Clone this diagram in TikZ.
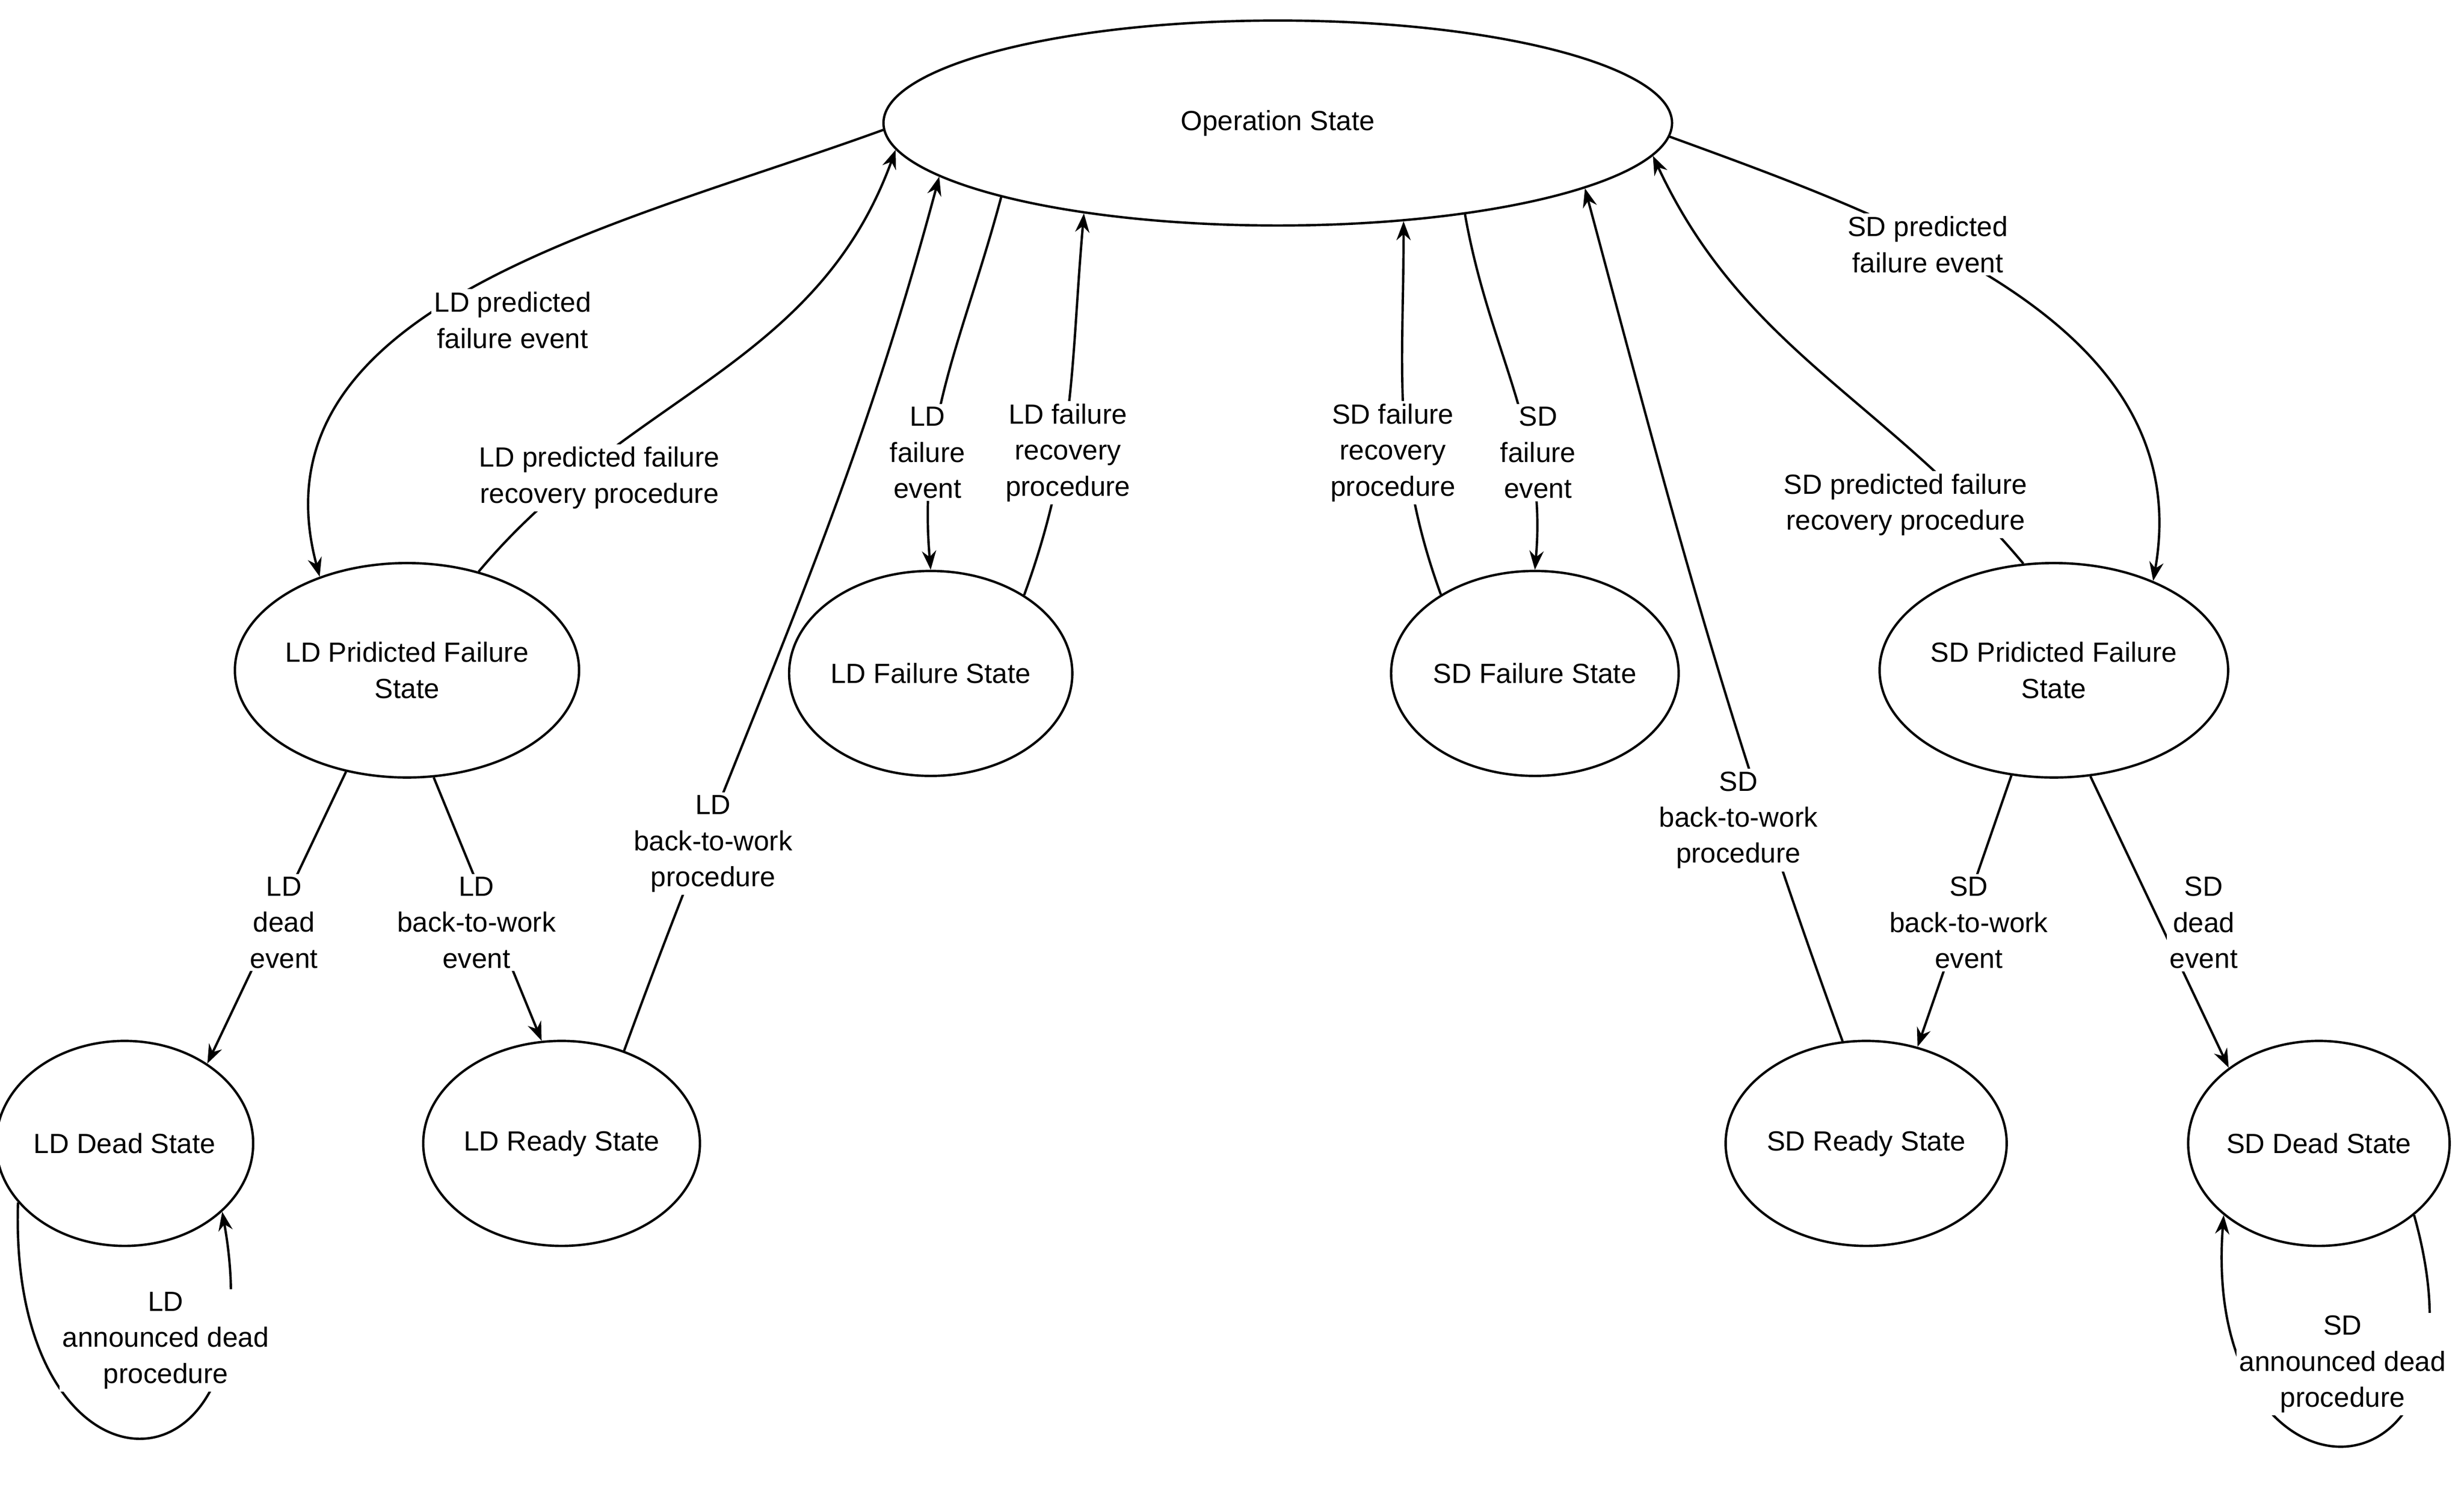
\documentclass[tikz,border=0pt]{standalone}
\usepackage{fontspec}
\setmainfont{Liberation Sans}
\usetikzlibrary{shapes.geometric,arrows.meta}
\begin{document}
\begin{tikzpicture}[x=0.02cm,y=-0.02cm,
  st/.style={ellipse,draw,line width=0.85pt,minimum width=2.8cm,minimum height=2.6cm,inner sep=0pt,align=center,font=\fontsize{10}{13}\selectfont},
  ed/.style={line width=0.85pt,-{Stealth[length=2.4mm,width=1.8mm]}},
  lb/.style={fill=white,inner sep=1pt,align=center,font=\fontsize{10}{13}\selectfont}]
\useasboundingbox (0,0) rectangle (1562,947);
\node[st,minimum width=10cm,minimum height=2.6cm] (op) at (810,78) {Operation State};
\node[st,minimum width=3.2cm,minimum height=2.72cm] (ldp) at (258,425) {LD Pridicted Failure\\State};
\node[st,minimum width=3.2cm] (ldf) at (590,427) {LD Failure State};
\node[st,minimum width=3.2cm] (sdf) at (973,427) {SD Failure State};
\node[st,minimum width=3.2cm,minimum height=2.72cm] (sdp) at (1302,425) {SD Pridicted Failure\\State};
\node[st] (ldd) at (79,725) {LD Dead State};
\node[st] (ldr) at (356,725) {LD Ready State};
\node[st] (sdr) at (1183,725) {SD Ready State};
\node[st] (sdd) at (1470,725) {SD Dead State};

\draw[ed] (op.181) to[out=200,in=105] (ldp.133);
\draw[ed] (ldp.54) to[out=50,in=250] (op.184.5);
\draw[ed] (op.195.5) to[out=255,in=95] (ldf.90);
\draw[ed] (ldf.40) to[out=70,in=265] (op.205);
\draw[ed] (sdf.140) to[out=110,in=270] (op.322);
\draw[ed] (op.334.5) to[out=280,in=85] (sdf.90);
\draw[ed] (ldr.56) to[out=70,in=255] (op.189);
\draw[ed] (sdr.103) to[out=110,in=285] (op.348.4);
\draw[ed] (sdp.106) to[out=130,in=295] (op.355);
\draw[ed] (op.358.4) to[out=340,in=80] (sdp.42);
\draw[ed] (ldp.239) to (ldd.44.5);
\draw[ed] (ldp.284) to (ldr.101);
\draw[ed] (sdp.248) to (sdr.62);
\draw[ed] (sdp.289) to (sdd.140);
\draw[ed] (ldd.209) .. controls (5,960) and (175,960) .. (ldd.325);
\draw[ed] (sdd.323) .. controls (1585,965) and (1395,965) .. (sdd.217);

\node[lb] (l1) at (325,203) {LD predicted\\failure event};
\node[lb] (l2) at (380,303) {LD predicted failure\\recovery procedure};
\node[lb] (l3) at (588,287) {LD\\failure\\event};
\node[lb] (l4) at (677,287) {LD failure\\recovery\\procedure};
\node[lb] (l5) at (883,287) {SD failure\\recovery\\procedure};
\node[lb] (l6) at (975,287) {SD\\failure\\event};
\node[lb] (l7) at (452,535) {LD\\back-to-work\\procedure};
\node[lb] (l8) at (1102,520) {SD\\back-to-work\\procedure};
\node[lb] (l9) at (1208,320) {SD predicted failure\\recovery procedure};
\node[lb] (l10) at (1222,155) {SD predicted\\failure event};
\node[lb] (l11) at (180,585) {LD\\dead\\event};
\node[lb] (l12) at (302,585) {LD\\back-to-work\\event};
\node[lb] (l13) at (1248,585) {SD\\back-to-work\\event};
\node[lb] (l14) at (1397,585) {SD\\dead\\event};
\node[lb] (l15) at (105,850) {LD\\announced dead\\procedure};
\node[lb] (l16) at (1485,865) {SD\\announced dead\\procedure};
\end{tikzpicture}
\end{document}
